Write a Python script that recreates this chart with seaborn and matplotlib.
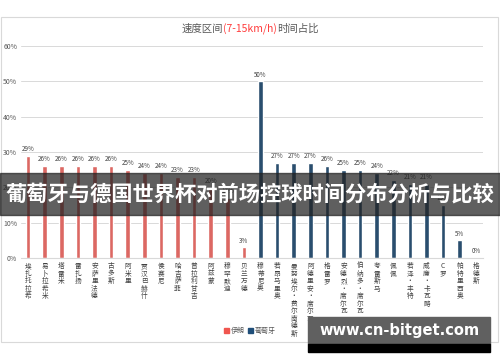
import pandas as pd
import seaborn as sns
import matplotlib.pyplot as plt
from matplotlib.patches import Rectangle, Patch

# dados
iran_players = ['埃扎托拉希', '易卜拉希米', '塔雷米', '雷扎扬', '安萨里法德', '古多斯', '阿米里',
                '贾汉巴赫什', '侯赛尼', '哈吉萨菲', '普拉利甘吉', '阿兹蒙', '穆罕默迪', '贝兰万德']
iran_values = [29, 26, 26, 26, 26, 26, 25, 24, 24, 23, 23, 20, 17, 3]

portugal_players = ['穆蒂尼奥', '若昂马里奥', '曼努埃尔·费尔南德斯', '阿德里安·席尔瓦', '格雷罗',
                    '安德烈·席尔瓦', '伯纳多·席尔瓦', '夸雷斯马', '佩佩', '若泽·丰特',
                    '威廉·卡瓦略', 'C罗', '帕特里西奥', '格德斯']
portugal_values = [50, 27, 27, 27, 26, 25, 25, 24, 22, 21, 21, 15, 5, 0]

teams = ['伊朗', '葡萄牙']
colors = ['#f0564f', '#1f4e79']

df = pd.DataFrame({
    'player': iran_players + portugal_players,
    'value': [v / 100 for v in iran_values + portugal_values],
    'team': [teams[0]] * len(iran_players) + [teams[1]] * len(portugal_players),
})

sns.set_style('white')
plt.rcParams['font.family'] = ['Noto Sans CJK SC', 'DejaVu Sans']

fig = plt.figure(figsize=(5, 3.62), dpi=100)
W, H = 500, 362

def px(x0, y0, x1, y1):
    # pixel box (top-left origin) -> figure coords
    return [x0 / W, 1 - y1 / H, (x1 - x0) / W, (y1 - y0) / H]

# moldura do gráfico
fig.patches.append(Rectangle((1 / W, 1 - 342 / H), 497 / W, 325 / H, transform=fig.transFigure,
                             fill=False, edgecolor='#d9d9d9', lw=0.8))

ax = fig.add_axes(px(21.4, 46, 483, 258))
sns.barplot(data=df, x='player', y='value', hue='team', palette=colors, dodge=False,
            width=0.28, ax=ax, legend=False)
ax.set_xlim(-0.4, 27.4)
ax.set_ylim(0, 0.6)
ax.set_yticks([0, 0.1, 0.2, 0.3, 0.4, 0.5, 0.6])
ax.set_yticklabels(['0%', '10%', '20%', '30%', '40%', '50%', '60%'], fontsize=5, color='#595959')
ax.yaxis.grid(True, color='#d9d9d9', lw=0.7)
ax.set_axisbelow(True)
for s in ['top', 'right', 'left']:
    ax.spines[s].set_visible(False)
ax.spines['bottom'].set_color('#d9d9d9')
ax.tick_params(axis='y', length=0, pad=3)
ax.tick_params(axis='x', length=0, pad=3)
ax.set_xlabel('')
ax.set_ylabel('')
ax.set_xticks(range(len(df)))
ax.set_xticklabels(['\n'.join(p) for p in df['player']], fontsize=4.8, color='#404040',
                   va='top', linespacing=0.92)

for i, v in enumerate(df['value']):
    ax.text(i, v + 0.008, f'{round(v * 100)}%', ha='center', va='bottom', fontsize=4.5,
            color='#404040')

# título com parte em vermelho
renderer = fig.canvas.get_renderer()
parts = [('速度区间', '#595959'), ('(7-15km/h)', '#ff3b3b'), ('时间占比', '#595959')]
texts = [fig.text(0, 1 - 29 / H, t, color=c, fontsize=7.5, va='center') for t, c in parts]
widths = [t.get_window_extent(renderer).width for t in texts]
x = 250 - sum(widths) / 2
for t, w in zip(texts, widths):
    t.set_x(x / W)
    x += w

# legenda
handles = [Patch(color=c, label=t) for t, c in zip(teams, colors)]
fig.legend(handles=handles, loc='center', bbox_to_anchor=(0.5, 1 - 331 / H), ncol=2,
           frameon=False, fontsize=5, handlelength=0.7, handleheight=0.7,
           handletextpad=0.3, columnspacing=0.5, labelcolor='#595959')

# faixa sobreposta
fig.patches.append(Rectangle((0, 1 - 215 / H), 1, 42 / H, transform=fig.transFigure,
                             color='#222222', alpha=0.72, zorder=10))
fig.text(0.5, 1 - 194 / H, '葡萄牙与德国世界杯对前场控球时间分布分析与比较', color='white',
         fontsize=15.3, fontweight='bold', ha='center', va='center', zorder=11)

# marca d'água
fig.patches.append(Rectangle((308 / W, 1 - 344 / H), 182 / W, 27 / H, transform=fig.transFigure,
                             color='#606060', zorder=10))
fig.patches.append(Rectangle((308 / W, 1 - 352 / H), 182 / W, 8 / H, transform=fig.transFigure,
                             color='black', zorder=10))
fig.text(400 / W, 1 - 331 / H, 'www.cn-bitget.com', color='white', fontsize=10.5,
         fontweight='bold', ha='center', va='center', zorder=11, family='DejaVu Sans')

fig.savefig('out.png', dpi=100)
